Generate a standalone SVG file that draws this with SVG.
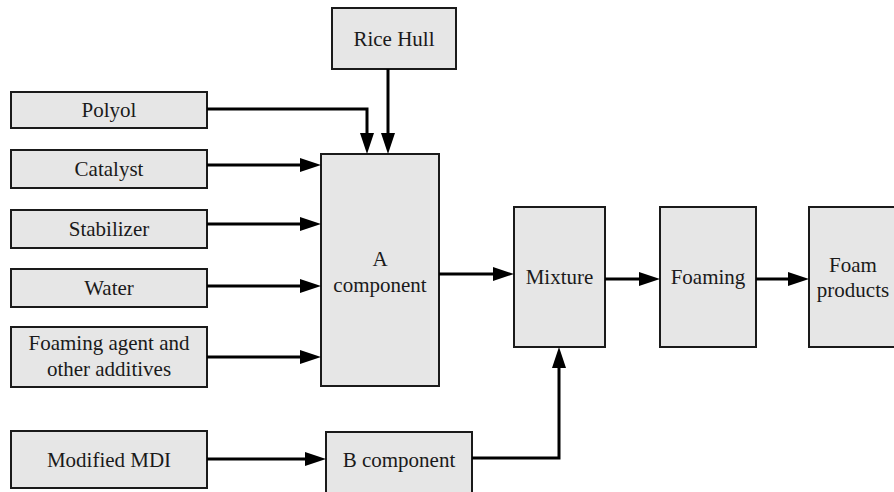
<svg xmlns="http://www.w3.org/2000/svg" width="894" height="492" viewBox="0 0 894 492">
<style>
  .box { fill: #e6e6e6; stroke: #1a1a1a; stroke-width: 2; }
  .lbl { font-family: 'Liberation Serif', 'DejaVu Serif', serif; font-size: 21px; fill: #1a1a1a; text-anchor: middle; }
  .conn { fill: none; stroke: #000; stroke-width: 3; }
</style>
<defs>
  <marker id="ah" markerUnits="userSpaceOnUse" markerWidth="22" markerHeight="15" refX="11" refY="7" orient="auto">
    <path d="M0,0 L21,7 L0,14 z" fill="#000"/>
  </marker>
</defs>
<rect width="894" height="492" fill="#fff"/>

<g font-family="Liberation Serif, DejaVu Serif, serif">
<g id="rice-hull"><rect class="box" x="332" y="8" width="124" height="61"/><text class="lbl" x="394" y="46">Rice Hull</text></g>
<g id="polyol"><rect class="box" x="11" y="92" width="196" height="36"/><text class="lbl" x="109" y="117">Polyol</text></g>
<g id="catalyst"><rect class="box" x="11" y="150" width="196" height="38"/><text class="lbl" x="109" y="176">Catalyst</text></g>
<g id="stabilizer"><rect class="box" x="11" y="210" width="196" height="38"/><text class="lbl" x="109" y="236">Stabilizer</text></g>
<g id="water"><rect class="box" x="11" y="269" width="196" height="38"/><text class="lbl" x="109" y="295">Water</text></g>
<g id="foaming-agent"><rect class="box" x="11" y="327" width="196" height="60"/><text class="lbl" x="109" y="350">Foaming agent and</text><text class="lbl" x="109" y="376">other additives</text></g>
<g id="modified-mdi"><rect class="box" x="11" y="431" width="196" height="57"/><text class="lbl" x="109" y="467">Modified MDI</text></g>
<g id="a-component"><rect class="box" x="321" y="154" width="118" height="232"/><text class="lbl" x="380" y="266">A</text><text class="lbl" x="380" y="292">component</text></g>
<g id="b-component"><rect class="box" x="326" y="432" width="146" height="70"/><text class="lbl" x="399" y="467">B component</text></g>
<g id="mixture"><rect class="box" x="514" y="207" width="91" height="140"/><text class="lbl" x="559.5" y="284">Mixture</text></g>
<g id="foaming"><rect class="box" x="660" y="207" width="96" height="140"/><text class="lbl" x="708" y="284">Foaming</text></g>
<g id="foam-products"><rect class="box" x="809" y="207" width="100" height="140"/><text class="lbl" x="853" y="272">Foam</text><text class="lbl" x="853" y="297">products</text></g>
</g>

<g id="connectors">
  <path class="conn" d="M207,109 H367 V144" marker-end="url(#ah)"/>
  <path class="conn" d="M388,69 V144" marker-end="url(#ah)"/>
  <path class="conn" d="M207,165 H311" marker-end="url(#ah)"/>
  <path class="conn" d="M207,224 H311" marker-end="url(#ah)"/>
  <path class="conn" d="M207,286 H311" marker-end="url(#ah)"/>
  <path class="conn" d="M207,357 H311" marker-end="url(#ah)"/>
  <path class="conn" d="M207,459 H316" marker-end="url(#ah)"/>
  <path class="conn" d="M439,274 H504" marker-end="url(#ah)"/>
  <path class="conn" d="M472,458 H559 V357" marker-end="url(#ah)"/>
  <path class="conn" d="M605,279 H650" marker-end="url(#ah)"/>
  <path class="conn" d="M756,279 H799" marker-end="url(#ah)"/>
</g>
</svg>
